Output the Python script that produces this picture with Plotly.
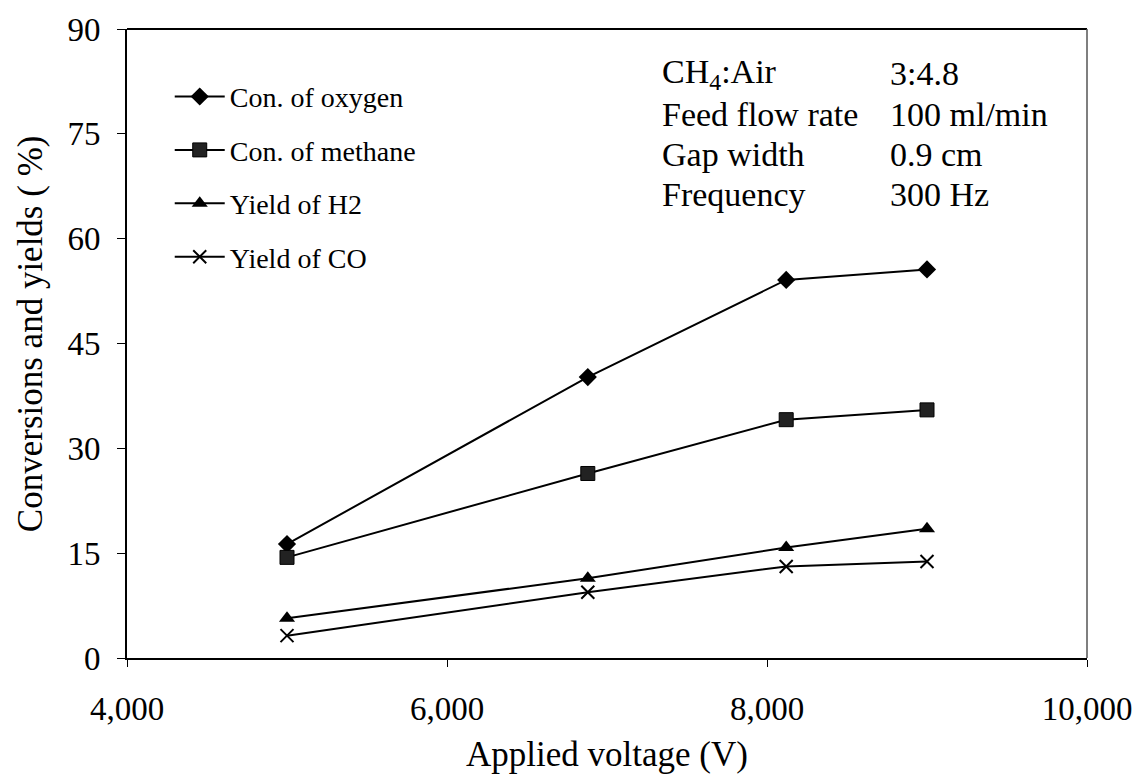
import plotly.graph_objects as go

# Applied voltage (V) at each measurement
voltage = [5000, 6880, 8120, 9000]

# Conversions and yields (%)
con_oxygen = [16.3, 40.2, 54.1, 55.6]
con_methane = [14.4, 26.4, 34.1, 35.5]
yield_h2 = [5.7, 11.4, 15.8, 18.5]
yield_co = [3.2, 9.4, 13.1, 13.8]

series_names = ["Con. of oxygen", "Con. of methane", "Yield of H2", "Yield of CO"]
x_ticks = [4000, 6000, 8000, 10000]
x_tick_text = ["4,000", "6,000", "8,000", "10,000"]
y_ticks = [0, 15, 30, 45, 60, 75, 90]

conditions = [
    ("CH<sub>4</sub>:Air", "3:4.8"),
    ("Feed flow rate", "100 ml/min"),
    ("Gap width", "0.9 cm"),
    ("Frequency", "300 Hz"),
]

FONT = "Liberation Serif, Times New Roman, serif"
W, H = 1144, 781
ML, MR, MT, MB = 127, 51, 26, 123

def px_to_paper_x(px):
    return (px - ML) / (W - ML - MR)

def px_to_paper_y(py):
    return (H - MB - py) / (H - MT - MB)

marker_styles = [
    dict(symbol="diamond", size=14, color="black"),
    dict(symbol="square", size=14, color="#222222", line=dict(color="black", width=1)),
    dict(symbol="triangle-up", size=14, color="black"),
    dict(symbol="x-thin", size=13, color="black", line=dict(color="black", width=2)),
]

fig = go.Figure()
for i, (name, vals) in enumerate(zip(series_names, [con_oxygen, con_methane, yield_h2, yield_co])):
    fig.add_trace(go.Scatter(
        x=voltage, y=vals, name=name, mode="lines+markers",
        line=dict(color="black", width=2),
        marker=marker_styles[i],
        legendgroup=f"g{i}",
    ))

annotations = []
for j, (label, value) in enumerate(conditions):
    yy = px_to_paper_y(71 + j * 40.5)
    annotations.append(dict(x=px_to_paper_x(663), y=yy, xref="paper", yref="paper",
                            text=label, showarrow=False, xanchor="left", yanchor="middle",
                            font=dict(family=FONT, size=34, color="black")))
    annotations.append(dict(x=px_to_paper_x(893), y=yy, xref="paper", yref="paper",
                            text=value, showarrow=False, xanchor="left", yanchor="middle",
                            font=dict(family=FONT, size=34, color="black")))

# axis titles
annotations.append(dict(x=px_to_paper_x(610), y=px_to_paper_y(755), xref="paper", yref="paper",
                        text="Applied voltage (V)", showarrow=False,
                        xanchor="center", yanchor="middle",
                        font=dict(family=FONT, size=35, color="black")))
annotations.append(dict(x=px_to_paper_x(30), y=px_to_paper_y(332), xref="paper", yref="paper",
                        text="Conversions and yields ( %)", showarrow=False, textangle=-90,
                        xanchor="center", yanchor="middle",
                        font=dict(family=FONT, size=35, color="black")))

# plot frame: dark top edge, lighter right edge
shapes = [
    dict(type="line", xref="paper", yref="paper", x0=0, x1=1, y0=1, y1=1,
         line=dict(color="black", width=2)),
    dict(type="line", xref="paper", yref="paper", x0=1, x1=1, y0=0, y1=1,
         line=dict(color="#555555", width=1.5)),
]

fig.update_layout(
    width=W, height=H,
    margin=dict(l=ML, r=MR, t=MT, b=MB),
    paper_bgcolor="white", plot_bgcolor="white",
    font=dict(family=FONT, color="black"),
    showlegend=True,
    legend=dict(
        x=px_to_paper_x(170), y=px_to_paper_y(69), xanchor="left", yanchor="top",
        font=dict(family=FONT, size=28, color="black"),
        bgcolor="rgba(0,0,0,0)", tracegroupgap=14, itemwidth=50,
    ),
    annotations=annotations,
    shapes=shapes,
    hovermode=False,
)

fig.update_xaxes(
    range=[4000, 10000], tickvals=x_ticks, ticktext=x_tick_text,
    showgrid=False, zeroline=False,
    showline=True, linecolor="black", linewidth=2, mirror=False,
    ticks="outside", ticklen=7, tickcolor="black", tickwidth=1,
    ticklabelstandoff=13,
    tickfont=dict(family=FONT, size=33, color="black"),
)
fig.update_yaxes(
    range=[0, 90], tickvals=y_ticks,
    showgrid=False, zeroline=False,
    showline=True, linecolor="black", linewidth=2, mirror=False,
    ticks="outside", ticklen=8, tickcolor="black", tickwidth=1,
    ticklabelstandoff=10,
    tickfont=dict(family=FONT, size=33, color="black"),
)

fig.write_html("out.html")
